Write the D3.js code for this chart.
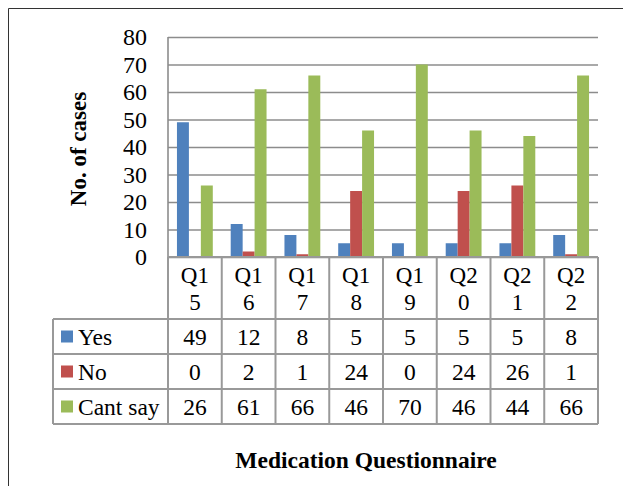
<!DOCTYPE html>
<html>
<head>
<meta charset="utf-8">
<script src="https://cdn.jsdelivr.net/npm/d3@7/dist/d3.min.js"></script>
<style>
  html, body { margin: 0; padding: 0; background: #fff; }
  svg { display: block; }
</style>
</head>
<body>
<svg id="chart" width="623" height="486" font-family="Liberation Serif, Times New Roman, serif"></svg>
<script>
// Survey answers per medication question
const categories = ["Q15", "Q16", "Q17", "Q18", "Q19", "Q20", "Q21", "Q22"];
const seriesNames = ["Yes", "No", "Cant say"];
const yesValues = [49, 12, 8, 5, 5, 5, 5, 8];
const noValues = [0, 2, 1, 24, 0, 24, 26, 1];
const cantSayValues = [26, 61, 66, 46, 70, 46, 44, 66];
const yTicks = [0, 10, 20, 30, 40, 50, 60, 70, 80];
const colors = ["#4f81bd", "#c0504d", "#9bbb59"];

const series = [yesValues, noValues, cantSayValues];
const FONT = "Liberation Serif";

const svg = d3.select("#chart");

// outer frame
svg.append("path")
  .attr("d", "M8.5,486 V8.5 H623")
  .attr("fill", "none")
  .attr("stroke", "#333")
  .attr("stroke-width", 1);

const plot = { left: 168, right: 598, top: 37, bottom: 257 };

const x = d3.scaleBand().domain(categories).range([plot.left, plot.right]).paddingInner(0).paddingOuter(0);
const y = d3.scaleLinear().domain([0, 80]).range([plot.bottom, plot.top]);
const xs = d3.scaleBand().domain(d3.range(seriesNames.length)).range([0, x.bandwidth()]).paddingInner(0).paddingOuter(0.75);

function label(sel, size, weight) {
  return sel.attr("font-family", FONT)
    .style("font-family", FONT)
    .attr("font-size", size)
    .attr("font-weight", weight || "normal")
    .attr("fill", "#000");
}

// horizontal gridlines
const yAxis = d3.axisLeft(y).tickValues(yTicks).tickSize(-(plot.right - plot.left));
const gy = svg.append("g").attr("transform", `translate(${plot.left},0)`).call(yAxis);
gy.attr("font-family", FONT);
gy.select(".domain").remove();
gy.selectAll(".tick line").attr("stroke", "#8c8c8c").attr("stroke-width", 1.6);
label(gy.selectAll(".tick text"), 24)
  .attr("x", -21)
  .attr("dy", "0.33em");

// left edge of the plot
svg.append("line")
  .attr("x1", plot.left).attr("x2", plot.left)
  .attr("y1", plot.top).attr("y2", plot.bottom)
  .attr("stroke", "#8c8c8c").attr("stroke-width", 1.6);

// bars
const groups = svg.append("g").selectAll("g")
  .data(categories)
  .join("g")
  .attr("transform", d => `translate(${x(d)},0)`);

groups.selectAll("rect")
  .data((d, i) => series.map((s, k) => ({ k, v: s[i] })))
  .join("rect")
  .attr("x", d => xs(d.k))
  .attr("width", xs.bandwidth())
  .attr("y", d => y(d.v))
  .attr("height", d => y(0) - y(d.v))
  .attr("fill", d => colors[d.k]);

// data table below the plot
const rowEdges = [257, 319, 354, 389, 424];
const legendLeft = 53;
const gridColor = "#999";
const table = svg.append("g");

// header row (category labels, split across two lines)
categories.forEach(c => {
  const cx = x(c) + x.bandwidth() / 2;
  const t = label(table.append("text"), 23).attr("text-anchor", "middle");
  t.append("tspan").attr("x", cx).attr("y", 283).text(c.slice(0, 2));
  t.append("tspan").attr("x", cx).attr("y", 310).text(c.slice(2));
});

// value rows
series.forEach((s, k) => {
  const top = rowEdges[k + 1], bot = rowEdges[k + 2];
  const mid = (top + bot) / 2;
  table.append("rect")
    .attr("x", 61).attr("y", mid - 6)
    .attr("width", 12).attr("height", 12)
    .attr("fill", colors[k]);
  label(table.append("text"), 23.5)
    .attr("x", 78).attr("y", mid + 8)
    .text(seriesNames[k]);
  categories.forEach((c, i) => {
    label(table.append("text"), 23.5)
      .attr("x", x(c) + x.bandwidth() / 2)
      .attr("y", mid + 8)
      .attr("text-anchor", "middle")
      .text(s[i]);
  });
});

// table grid lines
const lines = table.append("g").attr("stroke", gridColor).attr("stroke-width", 2).attr("fill", "none");
lines.append("line").attr("x1", plot.left).attr("x2", plot.right).attr("y1", rowEdges[0]).attr("y2", rowEdges[0]);
rowEdges.slice(1).forEach(r => {
  lines.append("line").attr("x1", legendLeft).attr("x2", plot.right).attr("y1", r).attr("y2", r);
});
const colEdges = categories.map(c => x(c)).concat([plot.right]);
colEdges.forEach(cx => {
  lines.append("line").attr("x1", cx).attr("x2", cx).attr("y1", rowEdges[0]).attr("y2", rowEdges[4]);
});
lines.append("line").attr("x1", legendLeft).attr("x2", legendLeft).attr("y1", rowEdges[1]).attr("y2", rowEdges[4]);

// axis titles
label(svg.append("text"), 23, "bold")
  .attr("transform", `translate(86,149) rotate(-90)`)
  .attr("text-anchor", "middle")
  .text("No. of cases");

label(svg.append("text"), 23.5, "bold")
  .attr("x", 366).attr("y", 468)
  .attr("text-anchor", "middle")
  .text("Medication Questionnaire");
</script>
</body>
</html>
